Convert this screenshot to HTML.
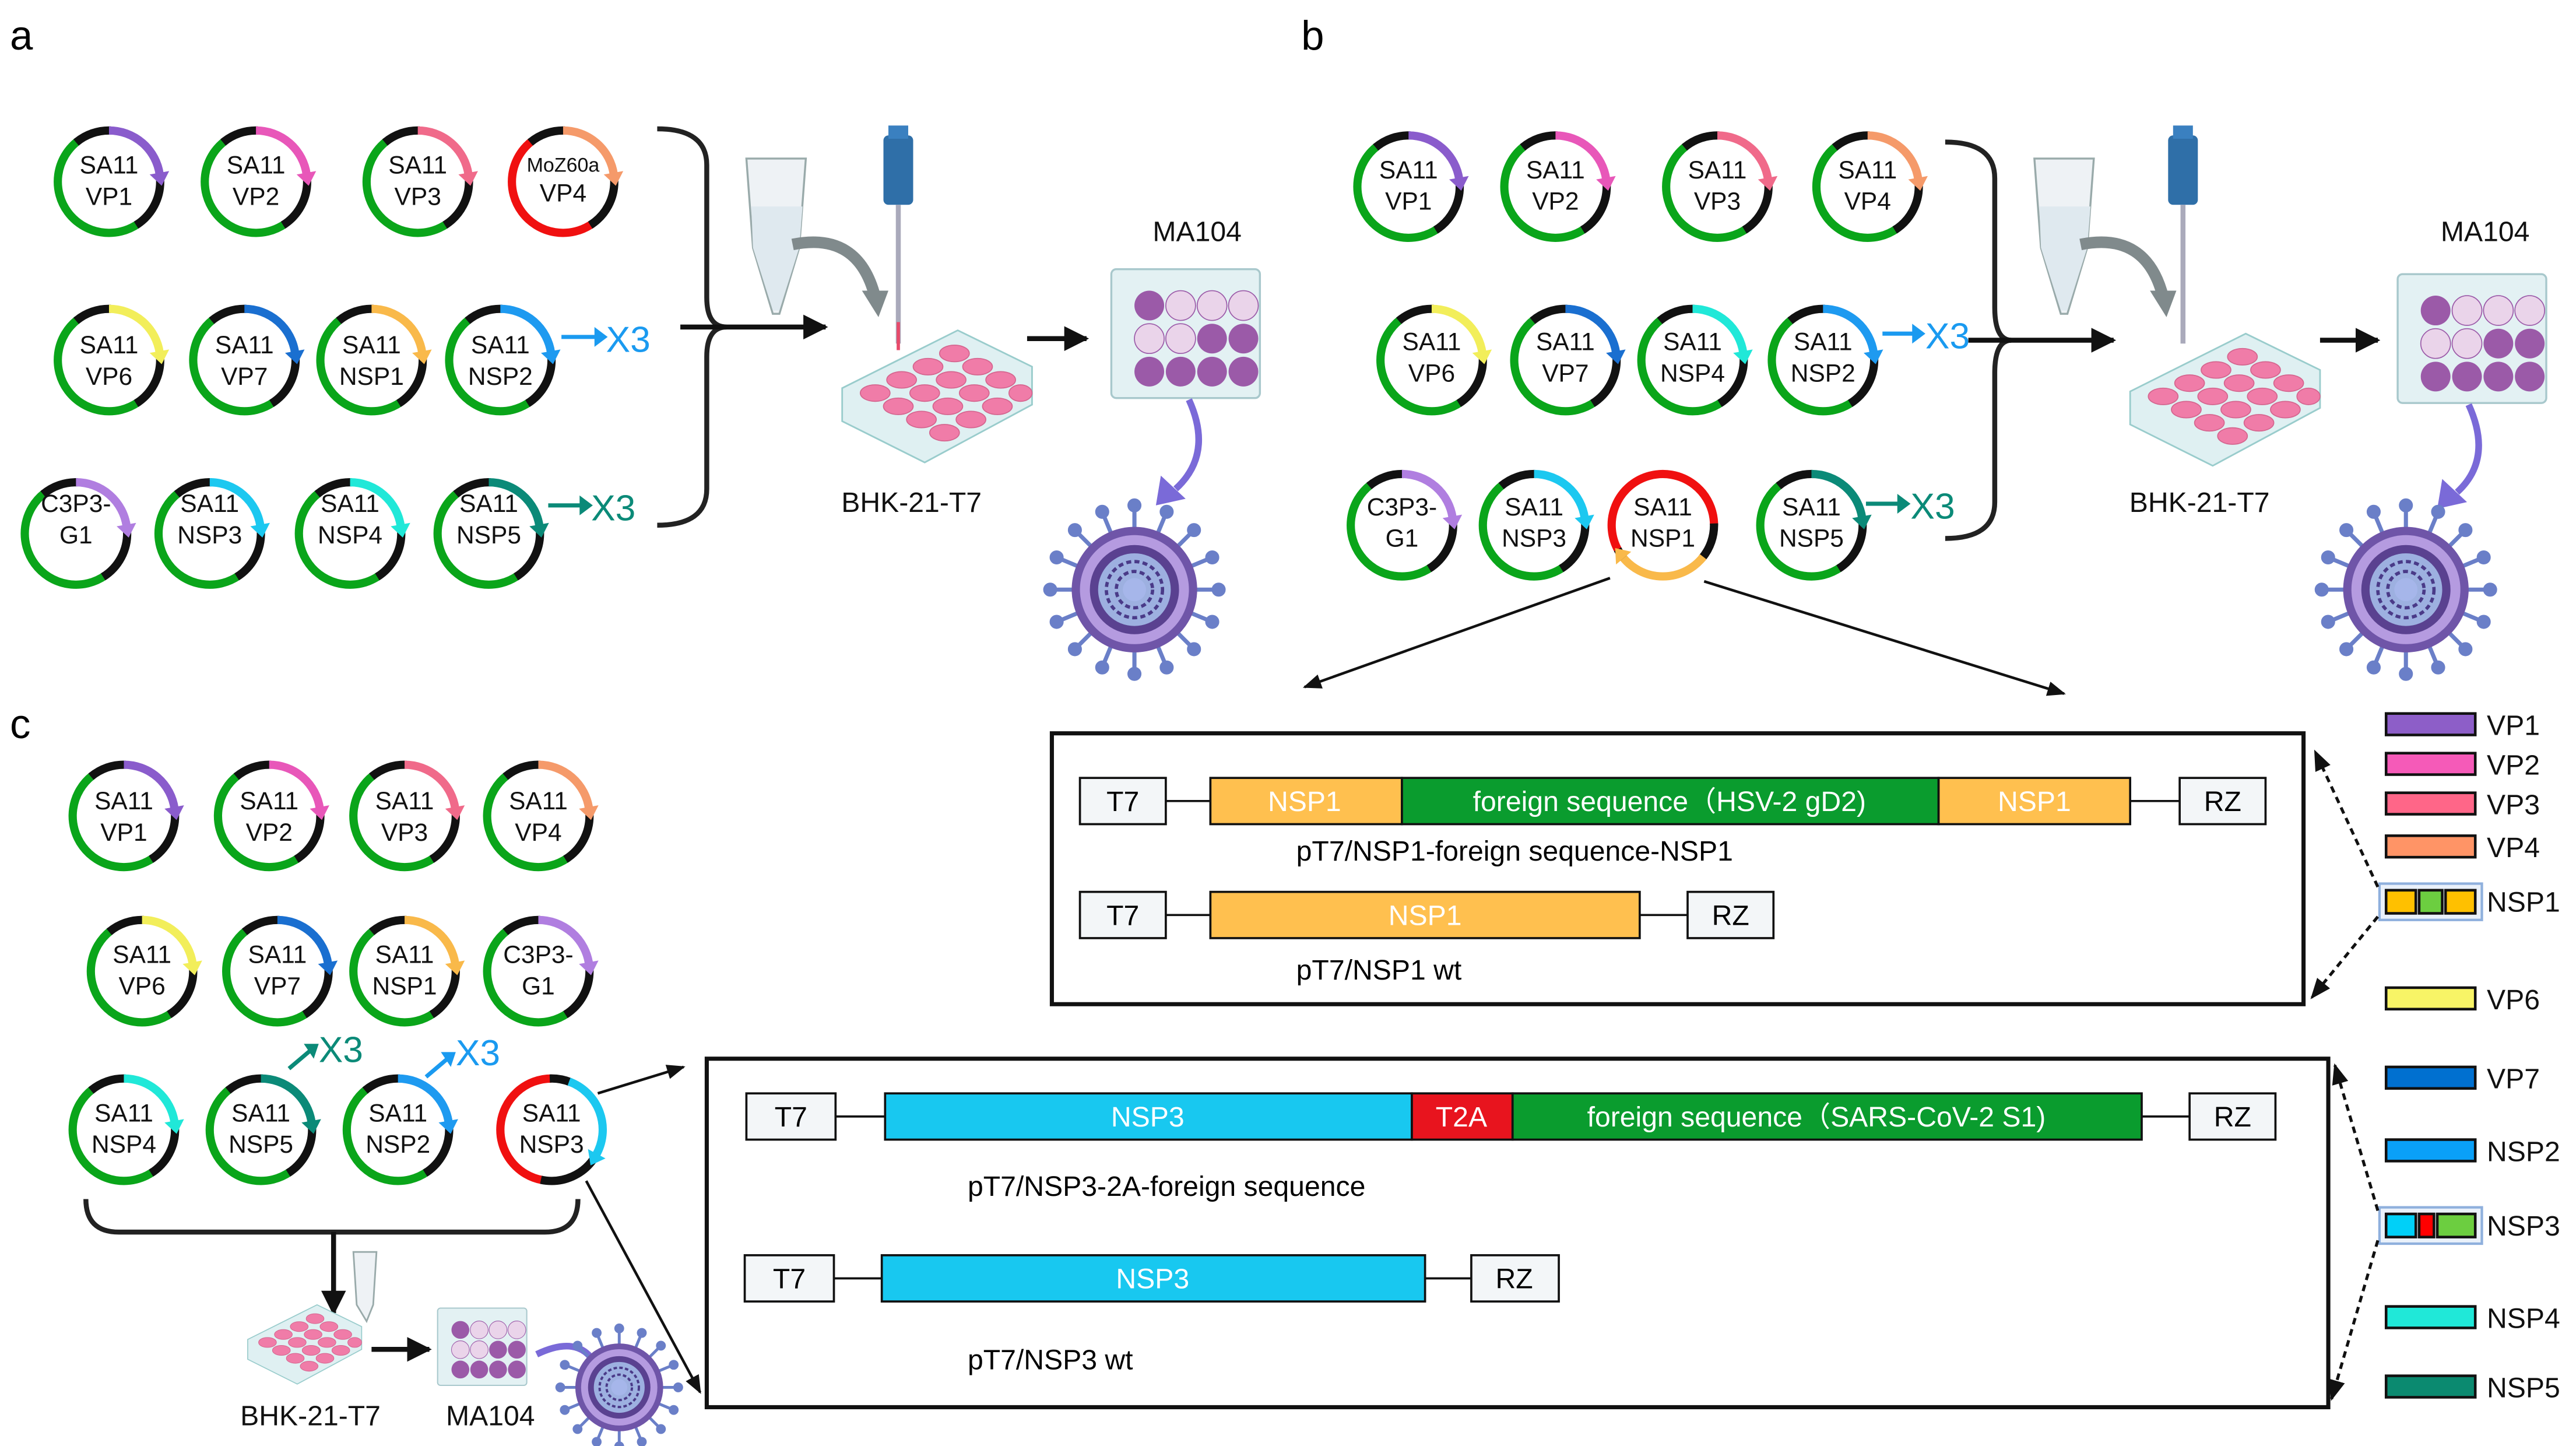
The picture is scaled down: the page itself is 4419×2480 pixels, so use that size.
<!DOCTYPE html>
<html><head><meta charset="utf-8"><style>
html,body{margin:0;padding:0;background:#fff}
svg{display:block}
text{font-family:"Liberation Sans",sans-serif}
</style></head><body>
<svg id="s" width="4419" height="2480" viewBox="0 0 1560 875.5" xmlns="http://www.w3.org/2000/svg">
<defs>
<marker id="ah" viewBox="0 0 10 10" refX="9" refY="5" markerWidth="5" markerHeight="5" orient="auto"><path d="M0,0L10,5L0,10z" fill="#111"/></marker>
<marker id="ahs" viewBox="0 0 10 10" refX="9" refY="5" markerWidth="7" markerHeight="7" orient="auto"><path d="M0,1L10,5L0,9z" fill="#111"/></marker>
<g id="plate24">
<path d="M0,35 L70,0 L115,22 L115,45 L50,80 L0,55z" fill="#dff0f2" stroke="#9cc" stroke-width="1"/>
<g fill="#f07ca8" stroke="#d5658f" stroke-width="0.6">
<ellipse cx="20" cy="38" rx="9" ry="5"/><ellipse cx="36" cy="30" rx="9" ry="5"/><ellipse cx="52" cy="22" rx="9" ry="5"/><ellipse cx="68" cy="14" rx="9" ry="5"/>
<ellipse cx="34" cy="46" rx="9" ry="5"/><ellipse cx="50" cy="38" rx="9" ry="5"/><ellipse cx="66" cy="30" rx="9" ry="5"/><ellipse cx="82" cy="22" rx="9" ry="5"/>
<ellipse cx="48" cy="54" rx="9" ry="5"/><ellipse cx="64" cy="46" rx="9" ry="5"/><ellipse cx="80" cy="38" rx="9" ry="5"/><ellipse cx="96" cy="30" rx="9" ry="5"/>
<ellipse cx="62" cy="62" rx="9" ry="5"/><ellipse cx="78" cy="54" rx="9" ry="5"/><ellipse cx="94" cy="46" rx="9" ry="5"/><ellipse cx="108" cy="38" rx="7" ry="5"/>
</g></g>
<g id="plate12">
<rect x="0" y="0" width="90" height="78" rx="3" fill="#e3f1f3" stroke="#a8c8cc" stroke-width="1.2"/>
<g fill="#9b5aa8"><circle cx="23" cy="22" r="9"/><circle cx="23" cy="62" r="9"/><circle cx="42" cy="62" r="9"/><circle cx="61" cy="62" r="9"/><circle cx="80" cy="62" r="9"/><circle cx="61" cy="42" r="9"/><circle cx="80" cy="42" r="9"/></g>
<g fill="#ead4ea" stroke="#9b5aa8" stroke-width="0.6"><circle cx="42" cy="22" r="9"/><circle cx="61" cy="22" r="9"/><circle cx="80" cy="22" r="9"/><circle cx="23" cy="42" r="9"/><circle cx="42" cy="42" r="9"/></g>
</g>
<g id="virus">
<g stroke="#6a7fc8" stroke-width="2.5" id="spk"></g>
<circle r="38" fill="#6f55a8"/><circle r="33" fill="#b59be0"/><circle r="27" fill="#5a4190"/><circle r="22" fill="#9db0e0"/>
<circle r="17" fill="none" stroke="#4a3a88" stroke-width="2" stroke-dasharray="3 2"/><circle r="11" fill="none" stroke="#4a3a88" stroke-width="2" stroke-dasharray="3 2"/><circle r="7" fill="#a6b6ea"/>
</g>
</defs>

<!-- panel labels -->
<text x="6" y="30" font-size="25">a</text>
<text x="788" y="30" font-size="25">b</text>
<text x="6" y="447" font-size="25">c</text>

<g id="rings"></g>

<!-- ring labels panel a -->
<g font-size="15" text-anchor="middle" fill="#111">
<text x="66" y="105">SA11</text><text x="66" y="124">VP1</text>
<text x="155" y="105">SA11</text><text x="155" y="124">VP2</text>
<text x="253" y="105">SA11</text><text x="253" y="124">VP3</text>
<text x="341" y="104" font-size="12">MoZ60a</text><text x="341" y="122">VP4</text>
<text x="66" y="214">SA11</text><text x="66" y="233">VP6</text>
<text x="148" y="214">SA11</text><text x="148" y="233">VP7</text>
<text x="225" y="214">SA11</text><text x="225" y="233">NSP1</text>
<text x="303" y="214">SA11</text><text x="303" y="233">NSP2</text>
<text x="46" y="310">C3P3-</text><text x="46" y="329">G1</text>
<text x="127" y="310">SA11</text><text x="127" y="329">NSP3</text>
<text x="212" y="310">SA11</text><text x="212" y="329">NSP4</text>
<text x="296" y="310">SA11</text><text x="296" y="329">NSP5</text>
<!-- b -->
<text x="853" y="108">SA11</text><text x="853" y="127">VP1</text>
<text x="942" y="108">SA11</text><text x="942" y="127">VP2</text>
<text x="1040" y="108">SA11</text><text x="1040" y="127">VP3</text>
<text x="1131" y="108">SA11</text><text x="1131" y="127">VP4</text>
<text x="867" y="212">SA11</text><text x="867" y="231">VP6</text>
<text x="948" y="212">SA11</text><text x="948" y="231">VP7</text>
<text x="1025" y="212">SA11</text><text x="1025" y="231">NSP4</text>
<text x="1104" y="212">SA11</text><text x="1104" y="231">NSP2</text>
<text x="849" y="312">C3P3-</text><text x="849" y="331">G1</text>
<text x="929" y="312">SA11</text><text x="929" y="331">NSP3</text>
<text x="1007" y="312">SA11</text><text x="1007" y="331">NSP1</text>
<text x="1097" y="312">SA11</text><text x="1097" y="331">NSP5</text>
<!-- c -->
<text x="75" y="490">SA11</text><text x="75" y="509">VP1</text>
<text x="163" y="490">SA11</text><text x="163" y="509">VP2</text>
<text x="245" y="490">SA11</text><text x="245" y="509">VP3</text>
<text x="326" y="490">SA11</text><text x="326" y="509">VP4</text>
<text x="86" y="583">SA11</text><text x="86" y="602">VP6</text>
<text x="168" y="583">SA11</text><text x="168" y="602">VP7</text>
<text x="245" y="583">SA11</text><text x="245" y="602">NSP1</text>
<text x="326" y="583">C3P3-</text><text x="326" y="602">G1</text>
<text x="75" y="679">SA11</text><text x="75" y="698">NSP4</text>
<text x="158" y="679">SA11</text><text x="158" y="698">NSP5</text>
<text x="241" y="679">SA11</text><text x="241" y="698">NSP2</text>
<text x="334" y="679">SA11</text><text x="334" y="698">NSP3</text>
</g>

<!-- X3 -->
<g font-size="22">
<line x1="340" y1="204" x2="362" y2="204" stroke="#1a9af0" stroke-width="2.5"/><path d="M360,198L368,204L360,210z" fill="#1a9af0"/><text x="367" y="213" fill="#1a9af0">X3</text>
<line x1="332" y1="306" x2="353" y2="306" stroke="#0b8a78" stroke-width="2.5"/><path d="M351,300L359,306L351,312z" fill="#0b8a78"/><text x="358" y="315" fill="#0b8a78">X3</text>
<line x1="1140" y1="202" x2="1160" y2="202" stroke="#1a9af0" stroke-width="2.5"/><path d="M1158,196L1166,202L1158,208z" fill="#1a9af0"/><text x="1166" y="211" fill="#1a9af0">X3</text>
<line x1="1130" y1="305" x2="1151" y2="305" stroke="#0b8a78" stroke-width="2.5"/><path d="M1149,299L1157,305L1149,311z" fill="#0b8a78"/><text x="1157" y="314" fill="#0b8a78">X3</text>
<line x1="175" y1="647" x2="188" y2="636" stroke="#0b8a78" stroke-width="2.5"/><path d="M184,632L193,632L190,641z" fill="#0b8a78"/><text x="193" y="643" fill="#0b8a78">X3</text>
<line x1="258" y1="652" x2="271" y2="641" stroke="#1a9af0" stroke-width="2.5"/><path d="M267,637L276,637L273,646z" fill="#1a9af0"/><text x="276" y="645" fill="#1a9af0">X3</text>
</g>

<!-- brackets -->
<g fill="none" stroke="#222" stroke-width="3">
<path d="M398,78 Q428,78 428,100 L428,180 Q428,198 440,198 M398,318 Q428,318 428,296 L428,216 Q428,198 440,198"/>
<path d="M1178,86 Q1208,86 1208,108 L1208,186 Q1208,206 1218,206 M1178,326 Q1208,326 1208,304 L1208,226 Q1208,206 1218,206"/>
<path d="M52,726 Q52,746 72,746 L330,746 Q350,746 350,726"/>
</g>
<g stroke="#111" stroke-width="3">
<line x1="412" y1="198" x2="500" y2="198" marker-end="url(#ah)"/>
<line x1="1192" y1="206" x2="1280" y2="206" marker-end="url(#ah)"/>
<line x1="622" y1="205" x2="658" y2="205" marker-end="url(#ah)"/>
<line x1="1405" y1="206" x2="1440" y2="206" marker-end="url(#ah)"/>
<line x1="202" y1="746" x2="202" y2="795" marker-end="url(#ah)"/>
<line x1="225" y1="817" x2="260" y2="817" marker-end="url(#ah)"/>
</g>

<!-- tubes & pipettes -->
<g>
<path d="M452,96 L488,96 L484,150 L472,190 L468,190 L456,150z" fill="#eef2f5" stroke="#9aa" stroke-width="1.2"/>
<path d="M455,125 L486,125 L484,150 L472,188 L468,188 L456,150z" fill="#dfe9ef"/>
<path d="M480,148 Q520,140 530,180" fill="none" stroke="#808a8c" stroke-width="7"/><path d="M522,176L538,176L532,192z" fill="#808a8c"/>
<rect x="535" y="82" width="18" height="42" rx="3" fill="#2f6fa8"/><rect x="538" y="76" width="12" height="8" fill="#3a80c0"/>
<line x1="544" y1="124" x2="544" y2="208" stroke="#aab" stroke-width="3"/>
<line x1="544" y1="195" x2="544" y2="212" stroke="#e84a6a" stroke-width="2"/>
<path d="M1232,96 L1268,96 L1264,150 L1252,190 L1248,190 L1236,150z" fill="#eef2f5" stroke="#9aa" stroke-width="1.2"/>
<path d="M1235,125 L1266,125 L1264,150 L1252,188 L1248,188 L1236,150z" fill="#dfe9ef"/>
<path d="M1260,148 Q1300,140 1310,180" fill="none" stroke="#808a8c" stroke-width="7"/><path d="M1302,176L1318,176L1312,192z" fill="#808a8c"/>
<rect x="1313" y="82" width="18" height="42" rx="3" fill="#2f6fa8"/><rect x="1316" y="76" width="12" height="8" fill="#3a80c0"/>
<line x1="1322" y1="124" x2="1322" y2="208" stroke="#aab" stroke-width="3"/>
<path d="M214,758 L228,758 L226,790 L222,800 L216,790z" fill="#eef2f5" stroke="#9aa" stroke-width="1"/>
</g>
<use href="#plate24" x="510" y="200"/>
<use href="#plate24" x="1290" y="202"/>
<use href="#plate24" x="150" y="790" transform="translate(150,790) scale(0.6) translate(-150,-790)"/>
<use href="#plate12" x="673" y="163"/>
<use href="#plate12" x="1452" y="166"/>
<use href="#plate12" x="265" y="792" transform="translate(265,792) scale(0.6) translate(-265,-792)"/>
<g fill="none" stroke="#7a6ad8" stroke-width="4">
<path d="M720,242 Q735,275 712,296"/><path d="M1495,245 Q1510,278 1488,298"/><path d="M325,820 Q350,808 360,825"/>
</g>
<path d="M703,288L718,302L700,306z" fill="#7a6ad8"/><path d="M1479,290L1494,304L1476,308z" fill="#7a6ad8"/>
<use href="#virus" x="687" y="357"/>
<use href="#virus" x="1457" y="357"/>
<use href="#virus" transform="translate(375,840) scale(0.7)"/>

<g font-size="17" fill="#111" text-anchor="middle">
<text x="725" y="146">MA104</text><text x="552" y="310">BHK-21-T7</text>
<text x="1505" y="146">MA104</text><text x="1332" y="310">BHK-21-T7</text>
<text x="188" y="863">BHK-21-T7</text><text x="297" y="863">MA104</text>
</g>

<!-- connectors to boxes -->
<g stroke="#111" stroke-width="1.6">
<line x1="975" y1="350" x2="790" y2="416" marker-end="url(#ahs)"/>
<line x1="1032" y1="352" x2="1250" y2="420" marker-end="url(#ahs)"/>
<line x1="362" y1="662" x2="414" y2="646" marker-end="url(#ahs)"/>
<line x1="355" y1="715" x2="424" y2="843" marker-end="url(#ahs)"/>
</g>

<!-- box 1 -->
<rect x="637" y="444" width="758" height="164" fill="none" stroke="#111" stroke-width="2.5"/>
<g stroke="#111" stroke-width="1.3">
<line x1="706" y1="485" x2="733" y2="485"/><line x1="1290" y1="485" x2="1320" y2="485"/>
<line x1="706" y1="554" x2="733" y2="554"/><line x1="993" y1="554" x2="1022" y2="554"/>
<rect x="654" y="471" width="52" height="28" fill="#f3f6f8"/>
<rect x="733" y="471" width="116" height="28" fill="#ffc04f"/>
<rect x="849" y="471" width="325" height="28" fill="#0a9c2e"/>
<rect x="1174" y="471" width="116" height="28" fill="#ffc04f"/>
<rect x="1320" y="471" width="52" height="28" fill="#f3f6f8"/>
<rect x="654" y="540" width="52" height="28" fill="#f3f6f8"/>
<rect x="733" y="540" width="260" height="28" fill="#ffc04f"/>
<rect x="1022" y="540" width="52" height="28" fill="#f3f6f8"/>
</g>
<g font-size="17" text-anchor="middle">
<text x="680" y="491">T7</text><text x="790" y="491" fill="#fff">NSP1</text><text x="1011" y="491" fill="#fff">foreign sequence（HSV-2 gD2)</text><text x="1232" y="491" fill="#fff">NSP1</text><text x="1346" y="491">RZ</text>
<text x="680" y="560">T7</text><text x="863" y="560" fill="#fff">NSP1</text><text x="1048" y="560">RZ</text>
</g>
<text x="785" y="521" font-size="17">pT7/NSP1-foreign sequence-NSP1</text>
<text x="785" y="593" font-size="17">pT7/NSP1 wt</text>

<!-- box 2 -->
<rect x="428" y="641" width="982" height="211" fill="none" stroke="#111" stroke-width="2.5"/>
<g stroke="#111" stroke-width="1.3">
<line x1="506" y1="676" x2="536" y2="676"/><line x1="1297" y1="676" x2="1326" y2="676"/>
<line x1="505" y1="774" x2="534" y2="774"/><line x1="863" y1="774" x2="891" y2="774"/>
<rect x="452" y="662" width="54" height="28" fill="#f3f6f8"/>
<rect x="536" y="662" width="319" height="28" fill="#18c8f0"/>
<rect x="855" y="662" width="61" height="28" fill="#e8141e"/>
<rect x="916" y="662" width="381" height="28" fill="#0a9c2e"/>
<rect x="1326" y="662" width="52" height="28" fill="#f3f6f8"/>
<rect x="451" y="760" width="54" height="28" fill="#f3f6f8"/>
<rect x="534" y="760" width="329" height="28" fill="#18c8f0"/>
<rect x="891" y="760" width="53" height="28" fill="#f3f6f8"/>
</g>
<g font-size="17" text-anchor="middle">
<text x="479" y="682">T7</text><text x="695" y="682" fill="#fff">NSP3</text><text x="885" y="682" fill="#fff">T2A</text><text x="1100" y="682" fill="#fff">foreign sequence（SARS-CoV-2 S1)</text><text x="1352" y="682">RZ</text>
<text x="478" y="780">T7</text><text x="698" y="780" fill="#fff">NSP3</text><text x="917" y="780">RZ</text>
</g>
<text x="586" y="724" font-size="17">pT7/NSP3-2A-foreign sequence</text>
<text x="586" y="829" font-size="17">pT7/NSP3 wt</text>

<!-- legend -->
<g stroke="#111" stroke-width="1.6">
<rect x="1445" y="432" width="54" height="13" fill="#8d5ec8"/>
<rect x="1445" y="456" width="54" height="13" fill="#f55ab8"/>
<rect x="1445" y="480" width="54" height="13" fill="#ff6688"/>
<rect x="1445" y="506" width="54" height="13" fill="#ff9466"/>
<rect x="1445" y="598" width="54" height="13" fill="#f8f466"/>
<rect x="1445" y="646" width="54" height="13" fill="#0070d0"/>
<rect x="1445" y="690" width="54" height="13" fill="#0aa0f8"/>
<rect x="1445" y="791" width="54" height="13" fill="#20e8d8"/>
<rect x="1445" y="833" width="54" height="13" fill="#0b8a70"/>
</g>
<rect x="1441" y="535" width="62" height="22" fill="#eaf1fa" stroke="#8fb0dd" stroke-width="1.5"/>
<rect x="1441" y="731" width="62" height="22" fill="#eaf1fa" stroke="#8fb0dd" stroke-width="1.5"/>
<g stroke="#111" stroke-width="1.6">
<rect x="1445" y="539" width="18" height="14" fill="#ffc000"/><rect x="1465" y="539" width="14" height="14" fill="#6cce40"/><rect x="1481" y="539" width="18" height="14" fill="#ffc000"/>
<rect x="1445" y="735" width="18" height="14" fill="#00d0f8"/><rect x="1465" y="735" width="9" height="14" fill="#f00"/><rect x="1476" y="735" width="23" height="14" fill="#6cce40"/>
</g>
<g font-size="17" fill="#111">
<text x="1506" y="445">VP1</text><text x="1506" y="469">VP2</text><text x="1506" y="493">VP3</text><text x="1506" y="519">VP4</text>
<text x="1506" y="552">NSP1</text><text x="1506" y="611">VP6</text><text x="1506" y="659">VP7</text><text x="1506" y="703">NSP2</text>
<text x="1506" y="748">NSP3</text><text x="1506" y="804">NSP4</text><text x="1506" y="846">NSP5</text>
</g>
<g stroke="#111" stroke-width="1.8" stroke-dasharray="4 3" fill="none">
<line x1="1440" y1="537" x2="1402" y2="455" marker-end="url(#ahs)"/>
<line x1="1440" y1="555" x2="1400" y2="604" marker-end="url(#ahs)"/>
<line x1="1440" y1="733" x2="1414" y2="645" marker-end="url(#ahs)"/>
<line x1="1440" y1="751" x2="1412" y2="847" marker-end="url(#ahs)"/>
</g>

<script>
(function(){
var NS="http://www.w3.org/2000/svg",g=document.getElementById('rings');
function arc(cx,cy,r,a0,a1,col,w){
 var p=document.createElementNS(NS,'path');
 var t0=a0*Math.PI/180,t1=a1*Math.PI/180;
 var x0=cx+r*Math.cos(t0),y0=cy+r*Math.sin(t0),x1=cx+r*Math.cos(t1),y1=cy+r*Math.sin(t1);
 var large=(a1-a0)>180?1:0;
 p.setAttribute('d','M'+x0+','+y0+'A'+r+','+r+' 0 '+large+' 1 '+x1+','+y1);
 p.setAttribute('fill','none');p.setAttribute('stroke',col);p.setAttribute('stroke-width',w||5);
 g.appendChild(p);
}
function head(cx,cy,r,a,col,dir){
 var t=a*Math.PI/180,x=cx+r*Math.cos(t),y=cy+r*Math.sin(t);
 var tx=-Math.sin(t)*dir,ty=Math.cos(t)*dir,nx=Math.cos(t),ny=Math.sin(t);
 var p=document.createElementNS(NS,'path');
 p.setAttribute('d','M'+(x+tx*8)+','+(y+ty*8)+'L'+(x+nx*6)+','+(y+ny*6)+'L'+(x-nx*6)+','+(y-ny*6)+'z');
 p.setAttribute('fill',col);g.appendChild(p);
}
function ring(cx,cy,col,base){
 base=base||'#0aa51a';var r=31;
 arc(cx,cy,r,55,232,base);arc(cx,cy,r,230,272,'#111');arc(cx,cy,r,270,352,col);arc(cx,cy,r,-2,58,'#111');
 head(cx,cy,r,350,col,1);
}
var C={VP1:'#8a5ccc',VP2:'#e857b9',VP3:'#f06a8a',VP4:'#f59a6a',VP6:'#f2ee5a',VP7:'#1a6fd0',NSP1:'#f9b94a',NSP2:'#1e9af0',NSP3:'#1cc8f0',NSP4:'#20e8d8',NSP5:'#0b8a78',G1:'#b07ee0'};
var L=[[66,110,'VP1'],[155,110,'VP2'],[253,110,'VP3'],[66,218,'VP6'],[148,218,'VP7'],[225,218,'NSP1'],[303,218,'NSP2'],[46,323,'G1'],[127,323,'NSP3'],[212,323,'NSP4'],[296,323,'NSP5'],
[853,113,'VP1'],[942,113,'VP2'],[1040,113,'VP3'],[1131,113,'VP4'],[867,218,'VP6'],[948,218,'VP7'],[1025,218,'NSP4'],[1104,218,'NSP2'],[849,318,'G1'],[929,318,'NSP3'],[1097,318,'NSP5'],
[75,494,'VP1'],[163,494,'VP2'],[245,494,'VP3'],[326,494,'VP4'],[86,588,'VP6'],[168,588,'VP7'],[245,588,'NSP1'],[326,588,'G1'],[75,684,'NSP4'],[158,684,'NSP5'],[241,684,'NSP2']];
L.forEach(function(a){ring(a[0],a[1],C[a[2]]);});
ring(341,110,C.VP4,'#f01010');
// b NSP1 special
(function(){var cx=1007,cy=318,r=31;arc(cx,cy,r,150,360,'#f01010');arc(cx,cy,r,-2,40,'#111');arc(cx,cy,r,38,142,'#f9b94a');arc(cx,cy,r,140,152,'#111');head(cx,cy,r,140,'#f9b94a',1);})();
// c NSP3 special
(function(){var cx=334,cy=684,r=31;arc(cx,cy,r,100,270,'#f01010');arc(cx,cy,r,268,292,'#111');arc(cx,cy,r,290,390,'#1cc8f0');arc(cx,cy,r,30,102,'#111');head(cx,cy,r,388,'#1cc8f0',1);})();
// virus spikes
var s=document.getElementById('spk');
for(var i=0;i<16;i++){var t=i*Math.PI/8;var l=document.createElementNS(NS,'line');
l.setAttribute('x1',36*Math.cos(t));l.setAttribute('y1',36*Math.sin(t));l.setAttribute('x2',50*Math.cos(t));l.setAttribute('y2',50*Math.sin(t));s.appendChild(l);
var c=document.createElementNS(NS,'circle');c.setAttribute('cx',51*Math.cos(t));c.setAttribute('cy',51*Math.sin(t));c.setAttribute('r',3);c.setAttribute('fill','#6a7fc8');s.appendChild(c);}
})();
</script>
</svg>
</body></html>
